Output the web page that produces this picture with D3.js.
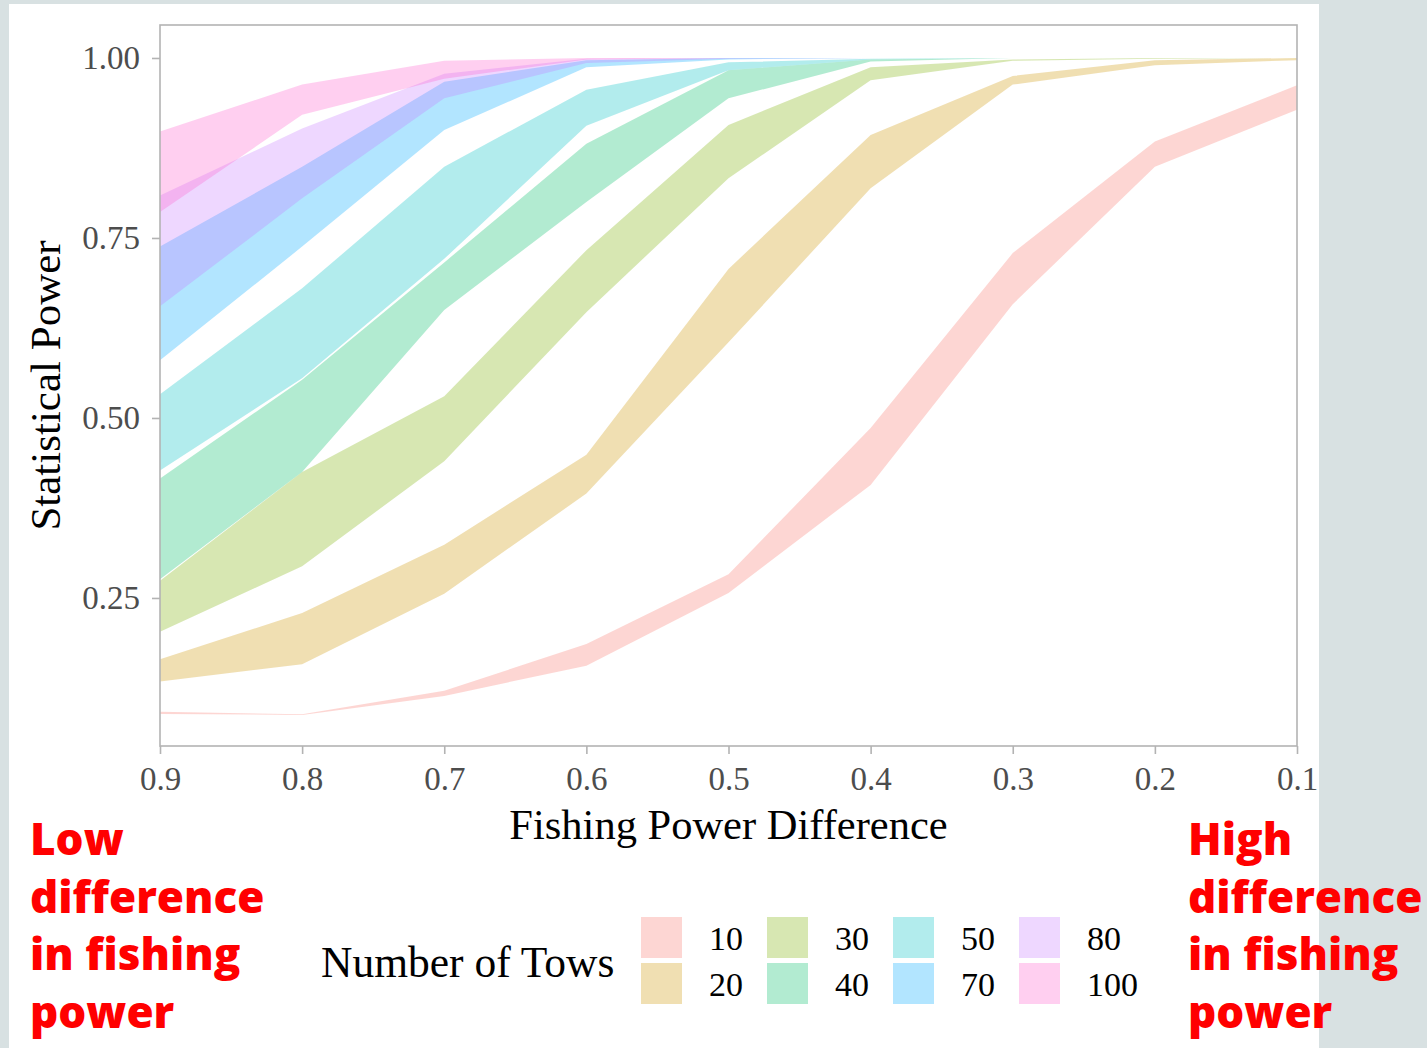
<!DOCTYPE html>
<html>
<head>
<meta charset="utf-8">
<script src="https://cdn.jsdelivr.net/npm/d3@7"></script>
<style>
  html, body { margin: 0; padding: 0; background: #d8e1e2; }
  svg { display: block; }
</style>
</head>
<body>
<svg id="chart" width="1427" height="1048"></svg>
<script>
// Fishing power difference levels along the x axis (reversed: 0.9 on the left)
const fishingPowerDiff = [0.9, 0.8, 0.7, 0.6, 0.5, 0.4, 0.3, 0.2, 0.1];

// Number-of-tows groups and their hue colours
const towGroups = ["10", "20", "30", "40", "50", "70", "80", "100"];
const towColors = ["#F8766D", "#CD9600", "#7CAE00", "#00BE67", "#00BFC4", "#00A9FF", "#C77CFF", "#FF61CC"];

// Lower / upper statistical power bounds for each group, one value per x level
const lower10  = [0.089, 0.0875, 0.114, 0.156, 0.257, 0.407, 0.658, 0.849, 0.928];
const upper10  = [0.092, 0.0885, 0.121, 0.186, 0.283, 0.486, 0.729, 0.884, 0.962];
const lower20  = [0.134, 0.158, 0.256, 0.395, 0.605, 0.819, 0.963, 0.990, 0.997];
const upper20  = [0.165, 0.229, 0.324, 0.449, 0.707, 0.893, 0.975, 0.997, 1.000];
const lower30  = [0.203, 0.294, 0.440, 0.647, 0.833, 0.969, 0.996, 0.999, 1.000];
const upper30  = [0.274, 0.425, 0.530, 0.733, 0.907, 0.987, 0.998, 1.000, 1.000];
const lower40  = [0.276, 0.425, 0.650, 0.800, 0.944, 0.995, 1.000, 1.000, 1.000];
const upper40  = [0.416, 0.553, 0.716, 0.881, 0.983, 0.998, 1.000, 1.000, 1.000];
const lower50  = [0.427, 0.555, 0.721, 0.906, 0.983, 0.998, 1.000, 1.000, 1.000];
const upper50  = [0.533, 0.680, 0.849, 0.956, 0.994, 0.999, 1.000, 1.000, 1.000];
const lower70  = [0.580, 0.738, 0.900, 0.987, 0.998, 1.000, 1.000, 1.000, 1.000];
const upper70  = [0.738, 0.849, 0.967, 0.997, 1.000, 1.000, 1.000, 1.000, 1.000];
const lower80  = [0.655, 0.805, 0.944, 0.993, 0.999, 1.000, 1.000, 1.000, 1.000];
const upper80  = [0.809, 0.902, 0.978, 0.999, 1.000, 1.000, 1.000, 1.000, 1.000];
const lower100 = [0.786, 0.921, 0.971, 0.998, 1.000, 1.000, 1.000, 1.000, 1.000];
const upper100 = [0.898, 0.963, 0.996, 1.000, 1.000, 1.000, 1.000, 1.000, 1.000];

const yTickValues = [0.25, 0.50, 0.75, 1.00];

const lowerBounds = [lower10, lower20, lower30, lower40, lower50, lower70, lower80, lower100];
const upperBounds = [upper10, upper20, upper30, upper40, upper50, upper70, upper80, upper100];

// Ribbon table: one series per tow group
const ribbons = towGroups.map((g, i) => ({
  group: g,
  color: towColors[i],
  points: fishingPowerDiff.map((x, j) => ({ x, lo: lowerBounds[i][j], hi: upperBounds[i][j] }))
}));

const svg = d3.select("#chart");

// Slide-style white card on the grey page
svg.append("rect").attr("x", 9).attr("y", 4).attr("width", 1310).attr("height", 1044).attr("fill", "#ffffff");

const panel = { left: 160, right: 1297, top: 25, bottom: 746 };

const x = d3.scaleLinear().domain([0.9, 0.1]).range([panel.left, panel.right]);
const y = d3.scaleLinear().domain([0.0444, 1.0458]).range([panel.bottom, panel.top]);

svg.append("clipPath").attr("id", "panel-clip")
  .append("rect")
  .attr("x", panel.left).attr("y", panel.top)
  .attr("width", panel.right - panel.left).attr("height", panel.bottom - panel.top);

const area = d3.area()
  .x(d => x(d.x))
  .y0(d => y(d.lo))
  .y1(d => y(d.hi));

svg.append("g").attr("clip-path", "url(#panel-clip)")
  .selectAll("path")
  .data(ribbons)
  .join("path")
  .attr("d", d => area(d.points))
  .attr("fill", d => d.color)
  .attr("fill-opacity", 0.3);

// Panel border
svg.append("rect")
  .attr("x", panel.left).attr("y", panel.top)
  .attr("width", panel.right - panel.left).attr("height", panel.bottom - panel.top)
  .attr("fill", "none").attr("stroke", "#b3b3b3").attr("stroke-width", 1.6);

const tickFont = "'Liberation Serif', 'Times New Roman', serif";

// X axis
const xAxis = svg.append("g")
  .attr("transform", `translate(0,${panel.bottom})`)
  .call(d3.axisBottom(x).tickValues(fishingPowerDiff).tickFormat(d3.format(".1f")).tickSize(8).tickPadding(13));
xAxis.select(".domain").remove();
xAxis.selectAll(".tick line").attr("stroke", "#b3b3b3").attr("stroke-width", 1.6);
xAxis.selectAll(".tick text")
  .attr("fill", "#4d4d4d").attr("font-family", tickFont).attr("font-size", 33);

// Y axis
const yAxis = svg.append("g")
  .attr("transform", `translate(${panel.left},0)`)
  .call(d3.axisLeft(y).tickValues(yTickValues).tickFormat(d3.format(".2f")).tickSize(8).tickPadding(12));
yAxis.select(".domain").remove();
yAxis.selectAll(".tick line").attr("stroke", "#b3b3b3").attr("stroke-width", 1.6);
yAxis.selectAll(".tick text")
  .attr("fill", "#4d4d4d").attr("font-family", tickFont).attr("font-size", 33);

// Axis titles
svg.append("text")
  .attr("x", (panel.left + panel.right) / 2).attr("y", 839)
  .attr("text-anchor", "middle")
  .attr("font-family", tickFont).attr("font-size", 42.5).attr("fill", "#000")
  .text("Fishing Power Difference");

svg.append("text")
  .attr("transform", `translate(60,${(panel.top + panel.bottom) / 2}) rotate(-90)`)
  .attr("text-anchor", "middle")
  .attr("font-family", tickFont).attr("font-size", 43).attr("fill", "#000")
  .text("Statistical Power");

// Legend
const legend = svg.append("g");
legend.append("text")
  .attr("x", 321).attr("y", 977)
  .attr("font-family", tickFont).attr("font-size", 43.5).attr("fill", "#000")
  .text("Number of Tows");

const keyX0 = 641, keyY0 = 917, colStep = 126, rowStep = 46, keySize = 41;
const keys = legend.selectAll("g.key")
  .data(ribbons)
  .join("g")
  .attr("class", "key")
  .attr("transform", (d, i) => `translate(${keyX0 + Math.floor(i / 2) * colStep},${keyY0 + (i % 2) * rowStep})`);
keys.append("rect")
  .attr("width", keySize).attr("height", keySize)
  .attr("fill", d => d.color).attr("fill-opacity", 0.3);
keys.append("text")
  .attr("x", 68).attr("y", keySize / 2 + 12)
  .attr("font-family", tickFont).attr("font-size", 34).attr("fill", "#000")
  .text(d => d.group);

// Red annotations at both ends of the x axis
const noteFont = "'Open Sans', Lato, sans-serif";
const notes = [
  { x: 30,   lines: ["Low", "difference", "in fishing", "power"] },
  { x: 1188, lines: ["High", "difference", "in fishing", "power"] }
];
notes.forEach(n => {
  svg.append("g").selectAll("text")
    .data(n.lines)
    .join("text")
    .attr("x", n.x)
    .attr("y", (d, i) => 855 + i * 57.5)
    .attr("font-family", noteFont).attr("font-weight", 800).attr("font-size", 44)
    .attr("fill", "#ff0000")
    .text(d => d);
});
</script>
</body>
</html>
